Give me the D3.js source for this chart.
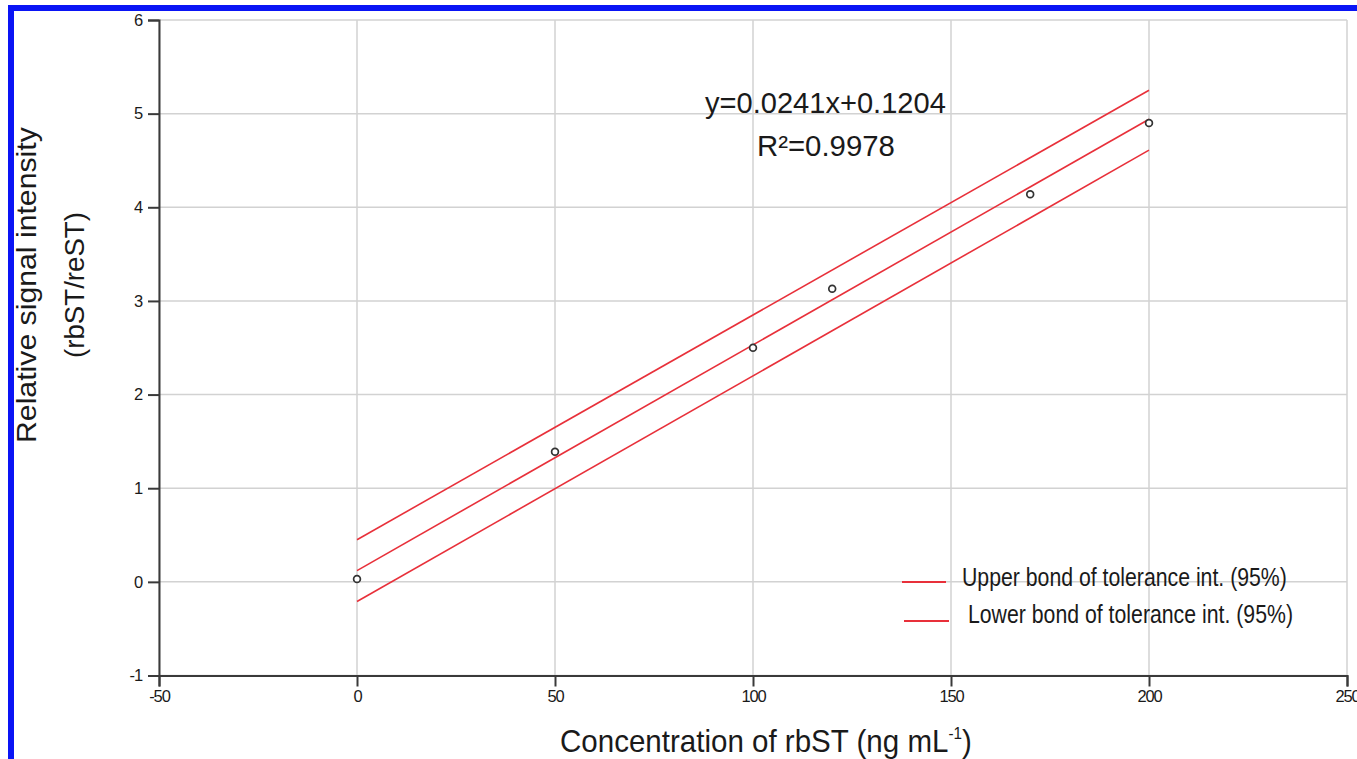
<!DOCTYPE html>
<html>
<head>
<meta charset="utf-8">
<script src="https://cdn.jsdelivr.net/npm/d3@7"></script>
<style>
  html, body { margin: 0; padding: 0; background: #fff; }
  svg { display: block; }
  text { font-family: "Liberation Sans", Arial, sans-serif; fill: #1a1a1a; }
</style>
</head>
<body>
<svg id="chart" width="1357" height="759"></svg>
<script>
// Calibration data for rbST
const concentrations = [0, 50, 100, 120, 170, 200];
const signalRatios   = [0.03, 1.39, 2.50, 3.13, 4.14, 4.90];

// Regression y = slope * x + intercept
const fitSlope = 0.0241;
const fitIntercept = 0.1204;
const fitR2 = 0.9978;
const fitRange = [0, 200];

// 95% tolerance interval bounds, values at each end of the fitted range
const upperBound = [0.45, 5.25];
const lowerBound = [-0.21, 4.61];

const xTicks = [-50, 0, 50, 100, 150, 200, 250];
const yTicks = [-1, 0, 1, 2, 3, 4, 5, 6];

const legendLabels = ["Upper bond of tolerance int. (95%)", " Lower bond of tolerance int. (95%)"];

const svg = d3.select("#chart");
const red = "#e8303a";

// Frame accent along the top and left edges
svg.append("rect").attr("x", 8).attr("y", 5).attr("width", 1349).attr("height", 6).attr("fill", "#0a14f5");
svg.append("rect").attr("x", 8).attr("y", 5).attr("width", 6).attr("height", 754).attr("fill", "#0a14f5");

const x = d3.scaleLinear().domain([-50, 250]).range([159, 1347]);
const y = d3.scaleLinear().domain([-1, 6]).range([675.5, 20]);

// Grid
const grid = svg.append("g").attr("stroke", "#d2d2d2").attr("stroke-width", 1.5);
grid.selectAll("line.v").data(xTicks).join("line")
  .attr("x1", d => x(d)).attr("x2", d => x(d))
  .attr("y1", y(6)).attr("y2", y(-1));
grid.selectAll("line.h").data(yTicks).join("line")
  .attr("x1", x(-50)).attr("x2", x(250))
  .attr("y1", d => y(d)).attr("y2", d => y(d));

// Axes
const fmt = d => String(d);
const gx = svg.append("g").attr("transform", `translate(0,${y(-1)})`)
  .call(d3.axisBottom(x).tickValues(xTicks).tickFormat(fmt).tickSize(11).tickPadding(4));
const gy = svg.append("g").attr("transform", `translate(${x(-50)},0)`)
  .call(d3.axisLeft(y).tickValues(yTicks).tickFormat(fmt).tickSize(11).tickPadding(6));
[gx, gy].forEach(g => {
  g.select(".domain").attr("stroke", "#3a3a3a").attr("stroke-width", 2);
  g.selectAll(".tick line").attr("stroke", "#3a3a3a").attr("stroke-width", 2);
  g.selectAll(".tick text").attr("font-size", 16.5).attr("fill", "#222")
    .attr("font-family", "Liberation Sans, Arial, sans-serif").attr("letter-spacing", -1.1);
});

// Fitted line and tolerance bounds
const line = d3.line().x(d => x(d[0])).y(d => y(d[1]));
const fitPts = fitRange.map(v => [v, fitSlope * v + fitIntercept]);
const upperPts = fitRange.map((v, i) => [v, upperBound[i]]);
const lowerPts = fitRange.map((v, i) => [v, lowerBound[i]]);
[upperPts, fitPts, lowerPts].forEach(p => {
  svg.append("path").attr("d", line(p)).attr("fill", "none")
    .attr("stroke", red).attr("stroke-width", 1.6);
});

// Measured points
svg.selectAll("circle.pt").data(concentrations.map((c, i) => [c, signalRatios[i]])).join("circle")
  .attr("cx", d => x(d[0])).attr("cy", d => y(d[1])).attr("r", 3.4)
  .attr("fill", "#fff").attr("stroke", "#333").attr("stroke-width", 1.7);

// Helper: condense a text element horizontally to a given width
function fitText(t, px, py, width, rotate) {
  const w = t.node().getComputedTextLength();
  const s = width / w;
  t.attr("x", 0).attr("y", 0)
   .attr("transform", `translate(${px},${py}) rotate(${rotate || 0}) scale(${s},1)`);
  return t;
}

// Equation annotation
fitText(svg.append("text").attr("font-size", 30)
  .text(`y=${fitSlope}x+${fitIntercept}`), 705, 113, 241);
fitText(svg.append("text").attr("font-size", 29)
  .text(`R²=${fitR2}`), 757, 156, 138);

// Legend
const legendRows = [
  { x1: 902, x2: 946, ly: 582, tx: 962, ty: 586, w: 325 },
  { x1: 904, x2: 949, ly: 621, tx: 962, ty: 623, w: 331 }
];
legendRows.forEach((r, i) => {
  svg.append("line").attr("x1", r.x1).attr("x2", r.x2).attr("y1", r.ly).attr("y2", r.ly)
    .attr("stroke", red).attr("stroke-width", 2.2);
  const t = svg.append("text").attr("font-size", 26).attr("xml:space", "preserve").text(legendLabels[i]);
  fitText(t, r.tx, r.ty, r.w);
});

// Axis titles
const xt = svg.append("text").attr("font-size", 31);
xt.append("tspan").text("Concentration of rbST (ng mL");
xt.append("tspan").attr("font-size", 16).attr("dy", -13).text("-1");
xt.append("tspan").attr("dy", 13).text(")");
fitText(xt, 560, 752, 412);

fitText(svg.append("text").attr("font-size", 28).text("Relative signal intensity"), 36, 443, 316, -90);
fitText(svg.append("text").attr("font-size", 28).text("(rbST/reST)"), 84, 358, 146, -90);
</script>
</body>
</html>
